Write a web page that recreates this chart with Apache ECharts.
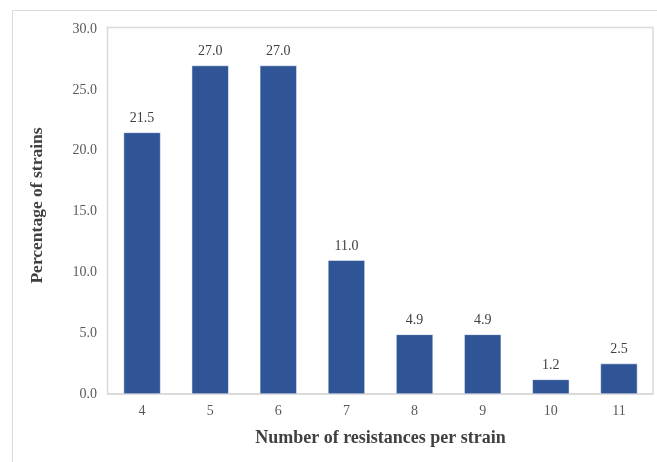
<!DOCTYPE html>
<html>
<head>
<meta charset="utf-8">
<script src="https://cdn.jsdelivr.net/npm/echarts@6/dist/echarts.min.js"></script>
<style>
html, body { margin: 0; padding: 0; background: #fff; }
#chart { width: 657px; height: 462px; }
</style>
</head>
<body>
<div id="chart"></div>
<script>
// Number of resistances per strain and share of strains (%)
const categories = ['4', '5', '6', '7', '8', '9', '10', '11'];
const percentages = [21.5, 27.0, 27.0, 11.0, 4.9, 4.9, 1.2, 2.5];
const yTicks = [0, 5, 10, 15, 20, 25, 30];

const chart = echarts.init(document.getElementById('chart'), null, { renderer: 'canvas' });
const font = '"Liberation Serif", "Times New Roman", serif';

chart.setOption({
  animation: false,
  textStyle: { fontFamily: font },
  graphic: [{
    // outer chart frame
    type: 'rect',
    shape: { x: 12.5, y: 10.5, width: 700, height: 600 },
    style: { fill: 'none', stroke: '#d9d9d9', lineWidth: 1 },
    silent: true,
    z: -1
  }, {
    // plot-area frame
    type: 'rect',
    shape: { x: 107.5, y: 27.5, width: 545.5, height: 366.5 },
    style: { fill: 'none', stroke: '#d9d9d9', lineWidth: 1.5 },
    silent: true,
    z: -1
  }],
  grid: {
    left: 108, right: 4, top: 29, bottom: 68
  },
  xAxis: {
    type: 'category',
    data: categories,
    name: 'Number of resistances per strain',
    nameLocation: 'middle',
    nameGap: 35,
    nameTextStyle: { fontFamily: font, fontWeight: 'bold', fontSize: 18, color: '#404040' },
    axisLine: { show: true, lineStyle: { color: '#d9d9d9', width: 1.5 } },
    axisTick: { show: false },
    axisLabel: { fontFamily: font, fontSize: 14, color: '#595959', margin: 10 }
  },
  yAxis: {
    type: 'value',
    min: yTicks[0],
    max: yTicks[yTicks.length - 1],
    interval: 5,
    name: 'Percentage of strains',
    nameLocation: 'middle',
    nameGap: 62,
    nameTextStyle: {
      fontFamily: font, fontWeight: 'bold', fontSize: 17.5, color: '#404040',
      padding: [0, 0, 0, 12]
    },
    axisLine: { show: false },
    axisTick: { show: false },
    splitLine: { show: false },
    axisLabel: {
      fontFamily: font, fontSize: 14, color: '#595959', margin: 11,
      formatter: v => v.toFixed(1)
    }
  },
  series: [{
    type: 'bar',
    data: percentages,
    barWidth: 37,
    itemStyle: { color: '#2F5597', borderColor: '#ffffff', borderWidth: 0.5 },
    label: {
      show: true,
      position: 'top',
      distance: 7,
      fontFamily: font,
      fontSize: 14,
      color: '#404040',
      formatter: p => p.value.toFixed(1)
    }
  }]
});
</script>
</body>
</html>
